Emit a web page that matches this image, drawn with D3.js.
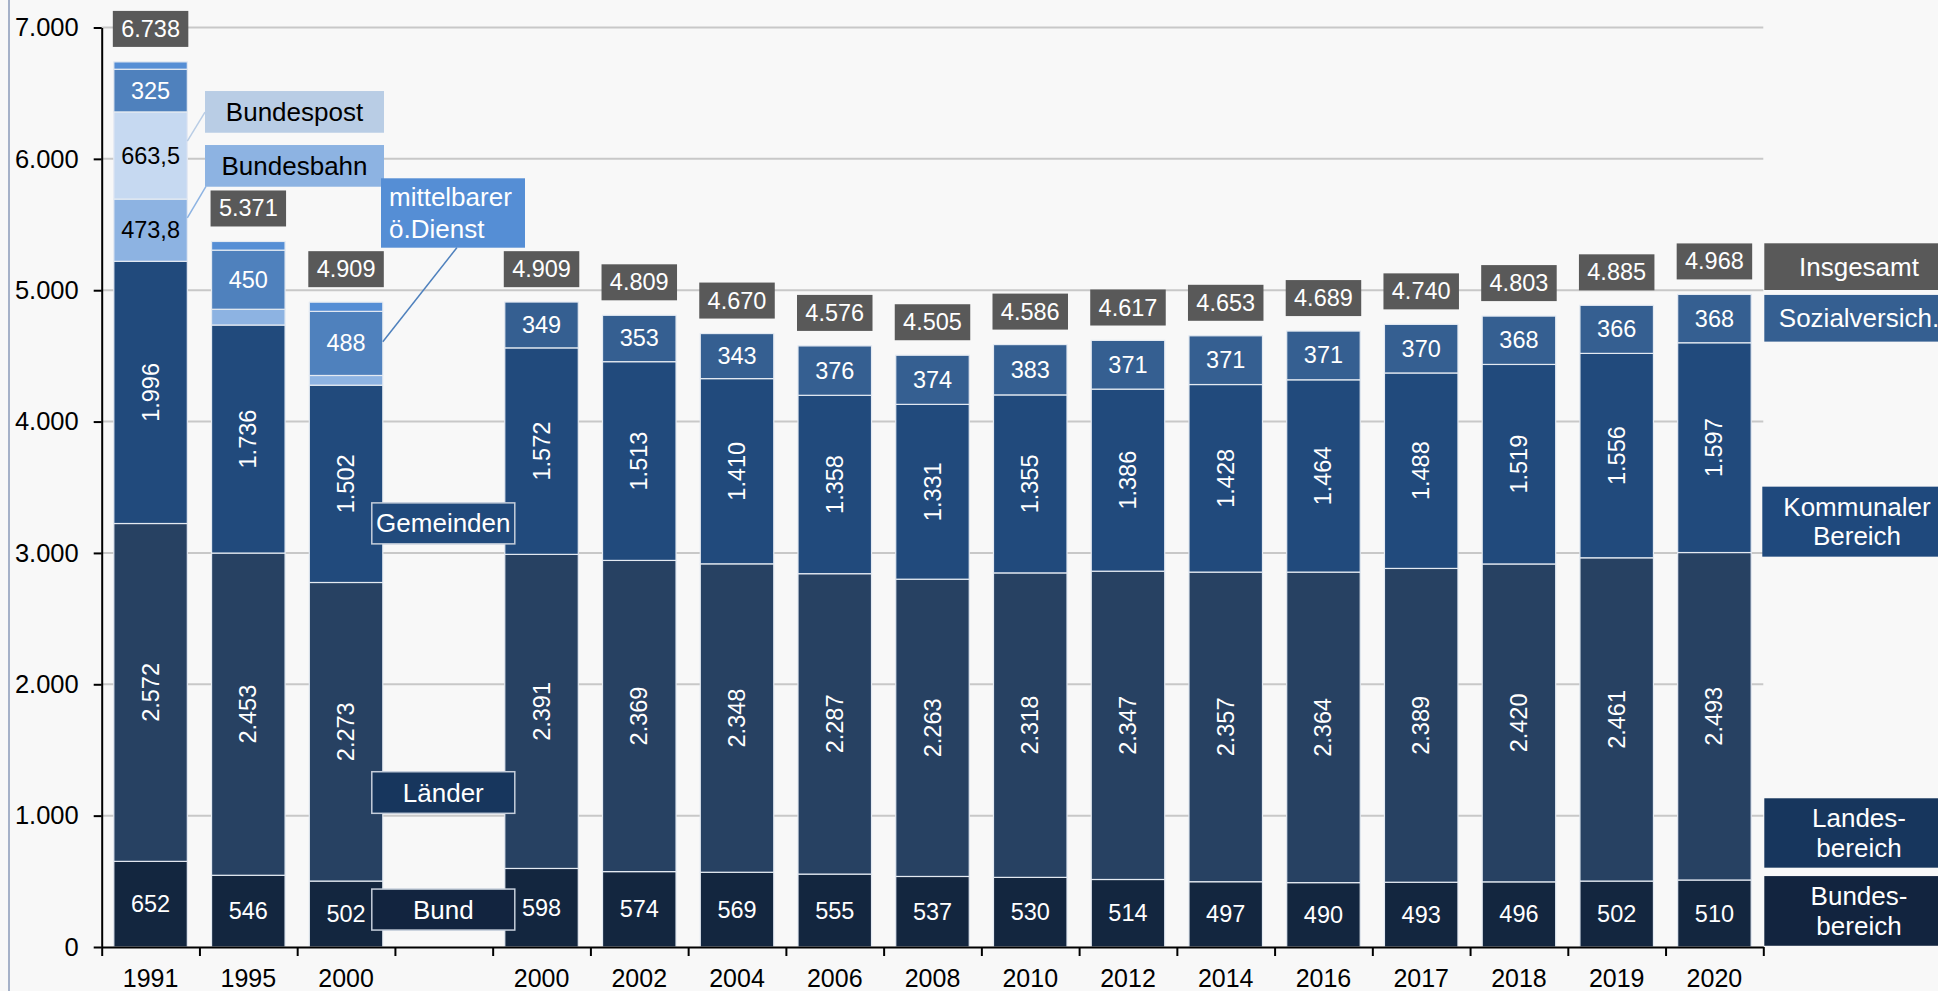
<!DOCTYPE html>
<html><head><meta charset="utf-8">
<script src="https://cdn.jsdelivr.net/npm/d3@7/dist/d3.min.js"></script>
<style>html,body{margin:0;padding:0;background:#f8f8f8;}svg{display:block;font-family:"Liberation Sans",Arial,sans-serif;}</style>
</head><body>
<svg id="c" width="1938" height="991"></svg>
<script>
// ---------- data ----------
const years = ["1991","1995","2000","","2000","2002","2004","2006","2008","2010","2012","2014","2016","2017","2018","2019","2020"];
const bund      = [652,546,502,0,598,574,569,555,537,530,514,497,490,493,496,502,510];
const laender   = [2572,2453,2273,0,2391,2369,2348,2287,2263,2318,2347,2357,2364,2389,2420,2461,2493];
const kommunal  = [1996,1736,1502,0,1572,1513,1410,1358,1331,1355,1386,1428,1464,1488,1519,1556,1597];
const bahn      = [473.8,120,74,0,0,0,0,0,0,0,0,0,0,0,0,0,0];
const post      = [663.5,0,0,0,0,0,0,0,0,0,0,0,0,0,0,0,0];
const mittelbar = [325,450,488,0,0,0,0,0,0,0,0,0,0,0,0,0,0];
const mittelRest= [56,66,70,0,0,0,0,0,0,0,0,0,0,0,0,0,0];
const sozial    = [0,0,0,0,349,353,343,376,374,383,371,371,371,370,368,366,368];
const totals    = [6738,5371,4909,null,4909,4809,4670,4576,4505,4586,4617,4653,4689,4740,4803,4885,4968];
const yTicks = [0,1000,2000,3000,4000,5000,6000,7000];

const seriesKeys = ["bund","laender","kommunal","bahn","post","mittelbar","mittelRest","sozial"];
const seriesData = {bund,laender,kommunal,bahn,post,mittelbar,mittelRest,sozial};
const colors = {bund:"#13263f",laender:"#274162",kommunal:"#214a7c",bahn:"#8db3e2",post:"#c6d9f1",mittelbar:"#4f81bd",mittelRest:"#558ed5",sozial:"#355f91"};
const labelMode = {bund:"h",laender:"v",kommunal:"v",bahn:"h",post:"h",mittelbar:"h",mittelRest:null,sozial:"h"};
const labelColor = {bund:"#fff",laender:"#fff",kommunal:"#fff",bahn:"#000",post:"#000",mittelbar:"#fff",sozial:"#fff"};

// ---------- setup ----------
const svg = d3.select("#c");
const W = 1938, H = 991;
const x0 = 101.7, x1 = 1763.3;
const y = d3.scaleLinear().domain([0,7000]).range([947,27.5]);
const x = d3.scaleBand().domain(d3.range(years.length)).range([x0,x1]).paddingInner(0.248).paddingOuter(0.124);
const xEdge = d3.scaleLinear().domain([0,years.length]).range([x0,x1]);

const loc = d3.formatLocale({decimal:",",thousands:".",grouping:[3],currency:["",""]});
const f0 = loc.format(",.0f"), f1 = loc.format(",.1f");
const fmt = v => Number.isInteger(v) ? f0(v) : f1(v);

svg.append("rect").attr("width",W).attr("height",H).attr("fill","#f8f8f8");
svg.append("line").attr("x1",9).attr("x2",9).attr("y1",0).attr("y2",H).attr("stroke","#8a9ab8").attr("stroke-width",1.5);

// gridlines
svg.append("g").selectAll("line").data(yTicks.filter(d=>d>0)).join("line")
  .attr("x1",x0).attr("x2",x1).attr("y1",d=>y(d)).attr("y2",d=>y(d))
  .attr("stroke","#c8c8c8").attr("stroke-width",2);

// stack
const rows = years.map((yr,i)=>{const r={i}; seriesKeys.forEach(k=>r[k]=seriesData[k][i]); return r;});
const stacked = d3.stack().keys(seriesKeys)(rows);

const gBars = svg.append("g");
stacked.forEach(s=>{
  const k = s.key;
  const segs = s.filter(d=>d[1]-d[0]>0);
  gBars.selectAll(null).data(segs).join("rect")
    .attr("x",d=>x(d.data.i)).attr("width",x.bandwidth())
    .attr("y",d=>y(d[1])).attr("height",d=>y(d[0])-y(d[1]))
    .attr("fill",colors[k]).attr("stroke","#e4eaf2").attr("stroke-width",1.2);
});
// value labels
const gLab = svg.append("g").attr("font-size",23.5);
stacked.forEach(s=>{
  const k = s.key, mode = labelMode[k];
  if(!mode) return;
  const segs = s.filter(d=>d[1]-d[0]>0 && (y(d[0])-y(d[1]))>35);
  segs.forEach(d=>{
    const cx = x(d.data.i)+x.bandwidth()/2, cy = (y(d[0])+y(d[1]))/2;
    const v = d[1]-d[0];
    const t = gLab.append("text").attr("fill",labelColor[k]).attr("text-anchor","middle")
      .attr("dominant-baseline","central").text(fmt(Math.round(v*10)/10));
    if(mode==="v") t.attr("transform",`translate(${cx},${cy}) rotate(-90)`);
    else t.attr("x",cx).attr("y",cy);
  });
});
// totals
const gTot = svg.append("g");
totals.forEach((t,i)=>{
  if(t==null) return;
  const top = y(t);
  gTot.append("rect").attr("x",x(i)-1).attr("width",x.bandwidth()+2)
    .attr("y",top-15-36).attr("height",36).attr("fill","#595959");
  gTot.append("text").attr("x",x(i)+x.bandwidth()/2).attr("y",top-15-18)
    .attr("text-anchor","middle").attr("dominant-baseline","central")
    .attr("fill","#fff").attr("font-size",23.5).text(f0(t));
});

// axes
const yAxis = d3.axisLeft(y).tickValues(yTicks).tickFormat(d=>f0(d)).tickSize(8).tickSizeOuter(0).tickPadding(15);
svg.append("g").attr("transform",`translate(${x0},0)`).call(yAxis)
  .call(g=>g.selectAll("text").attr("font-size",25.5).attr("fill","#000").attr("font-family","Liberation Sans, Arial"))
  .call(g=>g.selectAll("line,path").attr("stroke","#000").attr("stroke-width",2));
const xTicks = d3.axisBottom(xEdge).tickValues(d3.range(years.length+1)).tickFormat("").tickSize(9).tickSizeOuter(0);
svg.append("g").attr("transform",`translate(0,${y(0)})`).call(xTicks)
  .call(g=>g.selectAll("line,path").attr("stroke","#000").attr("stroke-width",2));
const xAxis = d3.axisBottom(x).tickFormat(i=>years[i]).tickSize(0).tickPadding(22);
svg.append("g").attr("transform",`translate(0,${y(0)})`).call(xAxis)
  .call(g=>g.select(".domain").remove())
  .call(g=>g.selectAll("text").attr("font-size",25).attr("fill","#000").attr("font-family","Liberation Sans, Arial"));

// ---------- annotations ----------
function box(g, bx, by, bw, bh, fill, lines, color, opts={}){
  g.append("rect").attr("x",bx).attr("y",by).attr("width",bw).attr("height",bh).attr("fill",fill)
   .attr("stroke",opts.stroke||"none").attr("stroke-width",opts.stroke?1.5:0);
  const lh = opts.lh||30;
  const n = lines.length;
  lines.forEach((l,j)=>{
    const t = g.append("text").attr("fill",color).attr("font-size",opts.fs||26)
      .attr("dominant-baseline","central")
      .attr("y", by+bh/2 + (j-(n-1)/2)*lh);
    if(opts.left){ t.attr("x",bx+8).attr("text-anchor","start"); }
    else { t.attr("x",(opts.cx!=null?opts.cx:bx+bw/2)).attr("text-anchor","middle"); }
    t.text(l);
  });
}
const gA = svg.append("g");
const bar0R = x(0)+x.bandwidth(), bar2R = x(2)+x.bandwidth();
// leader lines
gA.append("line").attr("x1",bar0R).attr("y1",y(6135)).attr("x2",205).attr("y2",y(6355)).attr("stroke","#b9cde5").attr("stroke-width",1.5);
gA.append("line").attr("x1",bar0R).attr("y1",y(5550)).attr("x2",206).attr("y2",y(5790)).attr("stroke","#8db3e2").attr("stroke-width",1.5);
gA.append("line").attr("x1",457).attr("y1",y(5325)).attr("x2",bar2R).attr("y2",y(4607)).attr("stroke","#4f81bd").attr("stroke-width",1.5);

box(gA,205,y(6358)-20.8,179,41.7,"#b9cde5",["Bundespost"],"#000");
box(gA,205,y(5947)-20.8,179,41.7,"#8db3e2",["Bundesbahn"],"#000");
box(gA,381,178.3,144,69.4,"#558ed5",["mittelbarer","ö.Dienst"],"#fff",{left:true,lh:31.5});

const gapC = x(3)+x.bandwidth()/2;
box(gA,gapC-72,y(3225)-20.5,143,41,"#214a7c",["Gemeinden"],"#fff",{stroke:"#c5cedb"});
box(gA,gapC-72,y(1176)-20.8,143,41.6,"#17365d",["Länder"],"#fff",{stroke:"#c5cedb"});
box(gA,gapC-72,y(285)-20.5,143,41,"#12243f",["Bund"],"#fff",{stroke:"#c5cedb"});

// right legend boxes
const rx = x1+1, rw = 190, rcx = 1859;
box(gA,rx,y(5179)-23.4,rw,46.7,"#595959",["Insgesamt"],"#fff",{cx:rcx});
box(gA,rx,y(4786)-23.4,rw,46.7,"#355f91",["Sozialversich."],"#fff",{cx:rcx});
box(gA,rx-2,y(3238)-35,rw,70,"#1f497d",["Kommunaler","Bereich"],"#fff",{cx:rcx-2,lh:29.5});
box(gA,rx,y(868)-34.7,rw,69.4,"#17365d",["Landes-","bereich"],"#fff",{cx:rcx,lh:29.6});
box(gA,rx,y(275)-34.8,rw,69.7,"#12243f",["Bundes-","bereich"],"#fff",{cx:rcx,lh:30.3});
</script>
</body></html>
